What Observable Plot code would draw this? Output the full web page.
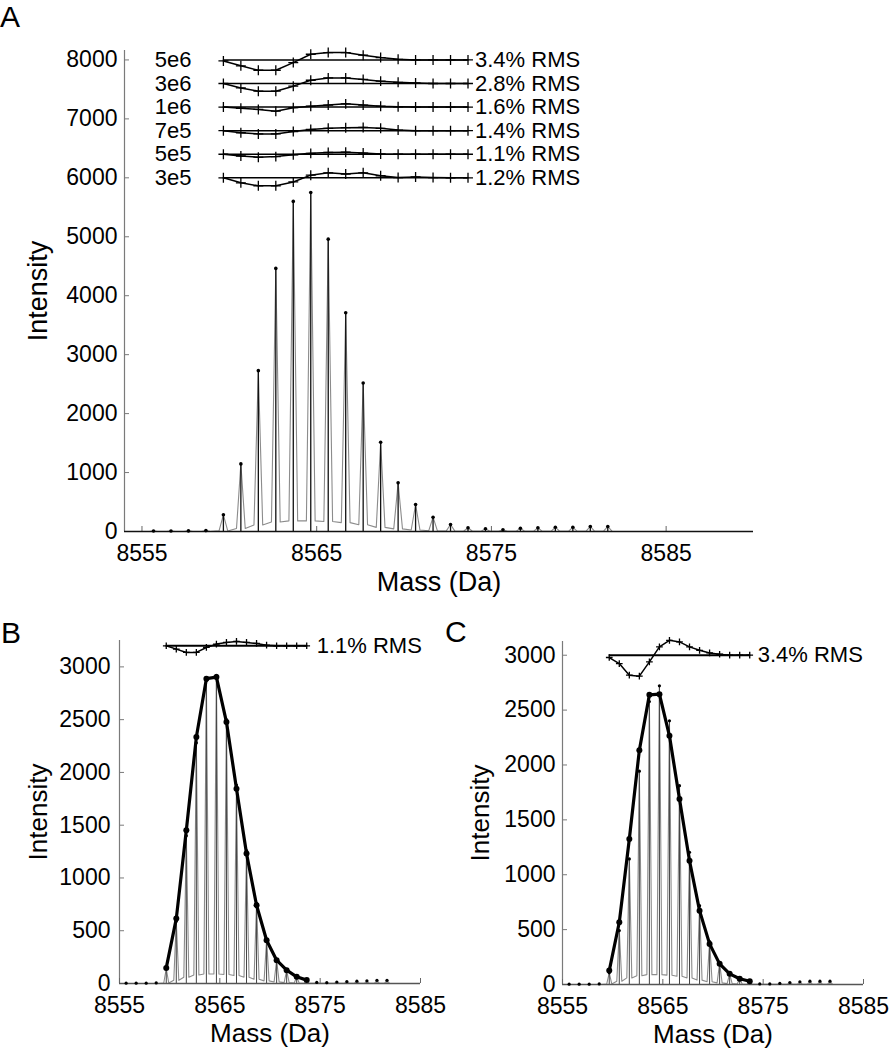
<!DOCTYPE html>
<html><head><meta charset="utf-8">
<script src="https://cdn.jsdelivr.net/npm/d3@7"></script>
<script src="https://cdn.jsdelivr.net/npm/@observablehq/plot@0.6"></script>
<style>
body{margin:0;background:#fff;}
#fig{position:relative;width:893px;height:1050px;font-family:"Liberation Sans",Arial,sans-serif;background:#fff;overflow:hidden;}
.panel{position:absolute;}
.letter{position:absolute;font-size:30px;line-height:1;color:#000;font-family:"Liberation Sans",Arial,sans-serif;}
</style></head><body><div id="fig"></div>
<script>
// ---------- data ----------
const massesAll = [8555.66, 8556.66, 8557.66, 8558.66, 8559.66, 8560.66, 8561.66, 8562.66, 8563.66, 8564.66, 8565.66, 8566.66, 8567.66, 8568.66, 8569.66, 8570.66, 8571.66, 8572.66, 8573.66, 8574.66, 8575.66, 8576.66, 8577.66, 8578.66, 8579.66, 8580.66, 8581.66];
const fitMasses = [8559.66, 8560.66, 8561.66, 8562.66, 8563.66, 8564.66, 8565.66, 8566.66, 8567.66, 8568.66, 8569.66, 8570.66, 8571.66, 8572.66, 8573.66];

// Panel A: spectrum
const peaksA   = [8, 8, 10, 15, 283, 1147, 2729, 4463, 5600, 5751, 4960, 3712, 2520, 1514, 825, 458, 243, 119, 63, 46, 29, 56, 63, 73, 73, 85, 85];
const valleysA = [0, 0, 0, 0, 10, 50, 110, 160, 180, 180, 170, 150, 115, 70, 45, 25, 12, 6, 4, 3, 3, 3, 3, 3, 3, 3, 3];

// Panel A: residual rows
const residLabels = ["5e6", "3e6", "1e6", "7e5", "5e5", "3e5"];
const residRms    = ["3.4% RMS", "2.8% RMS", "1.6% RMS", "1.4% RMS", "1.1% RMS", "1.2% RMS"];
const residBases  = [8000, 7600, 7200, 6800, 6400, 6000];
const resid5e6 = [-17, -100, -175, -175, -45, 96, 125, 125, 80, 40, 11, 0, 0, 0, 0];
const resid3e6 = [0, -75, -130, -130, -45, 55, 95, 95, 70, 40, 20, 10, 0, 0, 0];
const resid1e6 = [0, -20, -40, -70, -10, 15, 35, 55, 35, 15, 5, 0, 0, 0, 0];
const resid7e5 = [0, -35, -55, -55, -15, 20, 40, 50, 55, 40, 10, 0, 0, 0, 0];
const resid5e5 = [0, -30, -50, -40, -10, 15, 30, 35, 20, 5, 0, 0, 0, 0, 0];
const resid3e5 = [0, -85, -135, -135, -70, 45, 85, 65, 85, 35, 5, 15, 5, 0, 0];

// Panel B
const obsB     = [3, 3, 3, 5, 140, 590, 1400, 2280, 2870, 2920, 2500, 1880, 1260, 760, 415, 220, 125, 62, 30, 10, 8, 14, 18, 22, 25, 30, 30];
const valleysB = [0, 0, 0, 0, 5, 30, 60, 80, 90, 90, 85, 75, 60, 40, 25, 15, 8, 4, 2, 2, 2, 2, 2, 2, 2, 2, 2];
const fitB     = [148, 615, 1452, 2335, 2888, 2903, 2477, 1846, 1231, 741, 410, 221, 126, 63, 32];
const residB   = [0, -32, -63, -63, -16, 16, 32, 41, 32, 22, 6, 0, 0, 0, 0];

// Panel C
const obsC     = [3, 3, 3, 5, 106, 491, 1144, 1944, 2578, 2721, 2402, 1811, 1204, 718, 391, 197, 97, 52, 30, 5, 5, 10, 18, 25, 30, 30, 30];
const valleysC = [0, 0, 0, 0, 5, 30, 60, 80, 90, 90, 85, 75, 60, 40, 25, 15, 8, 4, 2, 2, 2, 2, 2, 2, 2, 2, 2];
const fitC     = [127, 567, 1326, 2135, 2639, 2645, 2266, 1690, 1128, 673, 370, 188, 97, 52, 30];
const residC   = [-21, -76, -182, -191, -61, 76, 136, 121, 76, 45, 21, 9, 0, 0, 0];

const yTicksA  = [0, 1000, 2000, 3000, 4000, 5000, 6000, 7000, 8000];
const yTicksBC = [0, 500, 1000, 1500, 2000, 2500, 3000];
const xTicks   = [8555, 8565, 8575, 8585];

// ---------- drawing ----------
const FONT = "Liberation Sans, Arial, sans-serif";
const fmt = d => String(d);

function panel(c) {
  const frameW = c.width - c.mL - c.mR, frameH = c.height - c.mT - c.mB;
  const obs = massesAll.map((m, i) => ({x: m, y: c.obs[i], v: c.valleys[i]}));
  const prof = [];
  obs.forEach(d => { prof.push({x: d.x - c.hw, y: d.v}, {x: d.x, y: d.y}, {x: d.x + c.hw, y: d.v}); });
  const rows = c.rows;
  const residPts = rows.flatMap((r, j) => fitMasses.map((m, i) => ({x: m, y: r.base + r.vals[i], row: j})));
  const first = fitMasses[0], last = fitMasses[fitMasses.length - 1];
  const marks = [
    Plot.ruleX([c.xDomain[0]], {stroke: "#7a7a7a", strokeWidth: 1.2}),
    Plot.tickY(c.yTicks, {y: d => d, stroke: "#7a7a7a", insetRight: frameW - 5}),
    Plot.tickX(xTicks, {x: d => d, stroke: "#666", insetTop: frameH - 5}),
    Plot.line(prof, {x: "x", y: "y", stroke: "#8c8c8c", strokeWidth: 1.1}),
    Plot.ruleX(obs, {x: "x", y1: 0, y2: "y", stroke: c.stickColor, strokeWidth: c.stickWidth}),
    Plot.ruleY([0], {stroke: c.baseColor, strokeWidth: 1.4}),
    Plot.dot(obs, {x: "x", y: "y", r: c.dotR, fill: "#000"})
  ];
  if (c.fit) {
    const fit = fitMasses.map((m, i) => ({x: m, y: c.fit[i]}));
    marks.push(
      Plot.line(fit, {x: "x", y: "y", stroke: "#000", strokeWidth: 3.2}),
      Plot.dot(fit, {x: "x", y: "y", r: 3, fill: "#000"})
    );
  }
  marks.push(
    Plot.ruleY(rows, {y: "base", x1: first, x2: last, stroke: "#000", strokeWidth: c.zeroWidth}),
    Plot.line(residPts, {x: "x", y: "y", z: "row", stroke: "#000", strokeWidth: 1.5}),
    Plot.dot(residPts, {x: "x", y: "y", symbol: "plus", r: c.plusR, stroke: "#000", fill: "none", strokeWidth: 1.3}),
    Plot.text(rows.filter(r => r.lab), {x: first, y: "base", text: "lab", dx: -32, textAnchor: "end", fontSize: 22}),
    Plot.text(rows, {x: last, y: "base", text: "rms", dx: c.rmsDx, textAnchor: "start", fontSize: 22}),
    Plot.axisY(c.yTicks, {tickSize: 0, tickPadding: c.yPad, fontSize: c.tickFont, label: null, tickFormat: fmt}),
    Plot.axisX(xTicks, {tickSize: 0, tickPadding: c.xPad, fontSize: c.tickFont, label: null, tickFormat: fmt}),
    Plot.text(["Intensity"], {text: d => d, frameAnchor: "left", dx: c.ylabDx, rotate: -90, textAnchor: "middle", lineAnchor: "middle", fontSize: c.labFont}),
    Plot.text(["Mass (Da)"], {text: d => d, frameAnchor: "bottom", dy: c.xlabDy, textAnchor: "middle", lineAnchor: "middle", fontSize: c.labFont})
  );
  return Plot.plot({
    width: c.width, height: c.height,
    marginLeft: c.mL, marginRight: c.mR, marginTop: c.mT, marginBottom: c.mB,
    x: {domain: c.xDomain}, y: {domain: c.yDomain},
    style: {fontFamily: FONT, color: "#000", background: "transparent", overflow: "visible"},
    marks
  });
}

const fig = document.getElementById("fig");
function place(node, left, top) {
  node.classList.add("panel");
  node.style.left = left + "px";
  node.style.top = top + "px";
  fig.appendChild(node);
}
function letter(t, left, top) {
  const d = document.createElement("div");
  d.className = "letter"; d.textContent = t;
  d.style.left = left + "px"; d.style.top = top + "px";
  fig.appendChild(d);
}

const residA = [resid5e6, resid3e6, resid1e6, resid7e5, resid5e5, resid3e5];
const rowsA = residLabels.map((lab, j) => ({lab, rms: residRms[j], base: residBases[j], vals: residA[j]}));

place(panel({
  width: 893, height: 600, mL: 124, mR: 140, mT: 50, mB: 69,
  xDomain: [8554, 8590], yDomain: [0, 8160], yTicks: yTicksA,
  obs: peaksA, valleys: valleysA, hw: 0.25, stickColor: "#111", stickWidth: 1.3, dotR: 1.8, baseColor: "#111",
  rows: rowsA, zeroWidth: 1.5, plusR: 3.3, rmsDx: 7,
  yPad: 7, xPad: 13, tickFont: 23, labFont: 27, ylabDx: -86, xlabDy: 51
}), 0, 0);

place(panel({
  width: 450, height: 450, mL: 119, mR: 30, mT: 40, mB: 67,
  xDomain: [8555, 8585], yDomain: [0, 3250], yTicks: yTicksBC,
  obs: obsB, valleys: valleysB, hw: 0.25, stickColor: "#444", stickWidth: 1, dotR: 1.6, baseColor: "#555",
  fit: fitB,
  rows: [{lab: null, rms: "1.1% RMS", base: 3200, vals: residB}], zeroWidth: 2, plusR: 2.3, rmsDx: 10,
  yPad: 9, xPad: 13, tickFont: 23, labFont: 26, ylabDx: -81, xlabDy: 50
}), 0, 600);

place(panel({
  width: 443, height: 450, mL: 112, mR: 30, mT: 41, mB: 66,
  xDomain: [8555, 8585], yDomain: [0, 3125], yTicks: yTicksBC,
  obs: obsC, valleys: valleysC, hw: 0.25, stickColor: "#444", stickWidth: 1, dotR: 1.6, baseColor: "#555",
  fit: fitC,
  rows: [{lab: null, rms: "3.4% RMS", base: 3000, vals: residC}], zeroWidth: 2, plusR: 2.3, rmsDx: 8,
  yPad: 7, xPad: 13, tickFont: 23, labFont: 26, ylabDx: -82, xlabDy: 50
}), 450, 600);

letter("A", 0, 2);
letter("B", 1, 618);
letter("C", 445, 617);
</script></body></html>
